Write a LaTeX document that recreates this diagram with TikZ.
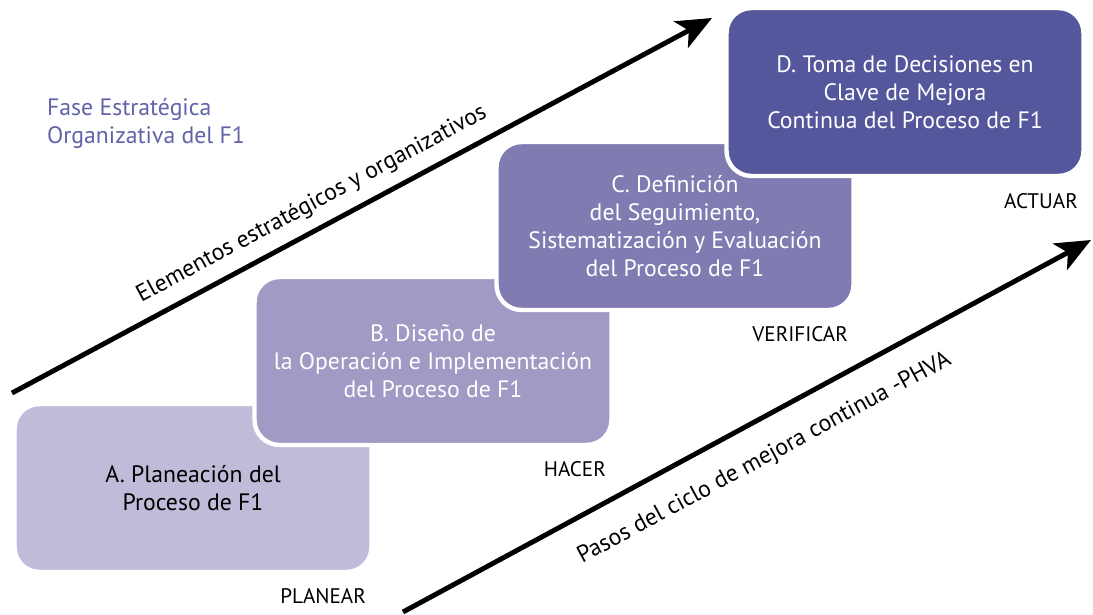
\documentclass[tikz,border=0pt]{standalone}
\usepackage{fontspec}
\setmainfont{PT Sans}
\usetikzlibrary{arrows.meta,positioning}
\definecolor{fasePlan}{HTML}{BFBCDA}
\definecolor{faseHacer}{HTML}{A09BC4}
\definecolor{faseVerif}{HTML}{807CB2}
\definecolor{faseActuar}{HTML}{55579D}
\definecolor{faseTexto}{HTML}{6262A9}
\tikzstyle{etiqueta} = [font=\fontsize{12}{14}\selectfont, inner sep=2pt]

\begin{document}
\begin{tikzpicture}[x=0.02cm, y=-0.02cm,
  fase/.style = {shape=rectangle, rounded corners=0.5cm, draw=white,
    line width=2.5pt, align=center, text=white,
    minimum width=7.14cm, minimum height=3.36cm,
    font=\fontsize{13.5}{16}\selectfont},
  flecha/.style = {line width=2.8pt,
    -{Stealth[length=20pt, width=17pt, inset=5pt]}},
  rotulo/.style = {sloped, font=\fontsize{13.5}{15}\selectfont}]
  \useasboundingbox (0,0) rectangle (1093,615);
  % pasos del ciclo
  \node[fase, fill=fasePlan, text=black] (planear) at (193,488)
    {A. Planeación del\\Proceso de F1};
  \node[fase, fill=faseHacer] (hacer) at (433,361)
    {B. Diseño de\\la Operación e Implementación\\del Proceso de F1};
  \node[fase, fill=faseVerif] (verificar) at (675,226)
    {C. Definición\\del Seguimiento,\\Sistematización y Evaluación\\del Proceso de F1};
  \node[fase, fill=faseActuar] (actuar) at (905,92)
    {D. Toma de Decisiones en\\Clave de Mejora\\Continua del Proceso de F1};
  \node[etiqueta, below left=0.2cm and 0.08cm of planear.south east] (lplanear) {PLANEAR};
  \node[etiqueta, below left=0.2cm and 0.08cm of hacer.south east] (lhacer) {HACER};
  \node[etiqueta, below left=0.2cm and 0.08cm of verificar.south east] (lverificar) {VERIFICAR};
  \node[etiqueta, below left=0.22cm and 0.08cm of actuar.south east] (lactuar) {ACTUAR};
  \node[anchor=north west, align=left, text=faseTexto,
    font=\fontsize{13.5}{16}\selectfont] (faseorg) at (41,92)
    {Fase Estratégica\\Organizativa del F1};
  % flechas
  \coordinate (e1) at (12,393);
  \coordinate (e2) at (712,18);
  \coordinate (p1) at (403,612);
  \coordinate (p2) at (1091,240);
  \draw[flecha] (e1) -- (e2)
    node[rotulo, pos=0.445, above=3pt] {Elementos estratégicos y organizativos};
  \draw[flecha] (p1) -- (p2)
    node[rotulo, pos=0.5, below=10pt] {Pasos del ciclo de mejora continua -PHVA};
\end{tikzpicture}
\end{document}
